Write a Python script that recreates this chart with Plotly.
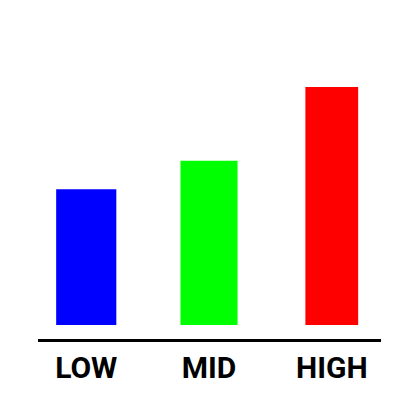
import plotly.graph_objects as go

categories = ["LOW", "MID", "HIGH"]
values = [57, 69, 100]
colors = ["#0000ff", "#00ff00", "#ff0000"]
bar_widths = [0.49, 0.465, 0.43]

fig = go.Figure(
    go.Bar(
        x=categories,
        y=values,
        width=bar_widths,
        marker=dict(color=colors, line=dict(width=0)),
        hoverinfo="skip",
    )
)

fig.update_layout(
    width=400,
    height=400,
    margin=dict(l=30, r=27, t=32, b=69, autoexpand=False),
    paper_bgcolor="white",
    plot_bgcolor="white",
    showlegend=False,
    font=dict(family="Roboto, sans-serif"),
)
fig.update_xaxes(
    type="category",
    range=[-0.393, 2.401],
    automargin=False,
    showline=True,
    linecolor="black",
    linewidth=3,
    showgrid=False,
    zeroline=False,
    ticks="",
    ticklabelstandoff=0,
    tickfont=dict(family="Roboto, sans-serif", size=30, color="black", weight="bold"),
)
fig.update_yaxes(
    range=[-5.88, 119.75],
    automargin=False,
    visible=False,
)

fig.write_html("out.html")
